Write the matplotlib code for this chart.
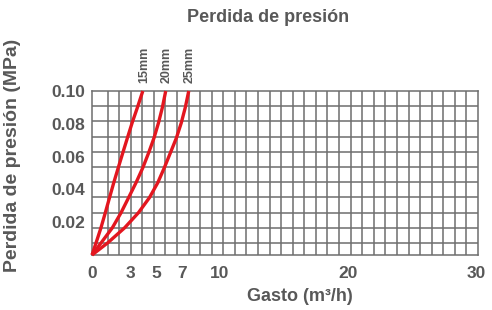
import numpy as np
import matplotlib
matplotlib.use('Agg')
import matplotlib.pyplot as plt
from matplotlib.transforms import offset_copy

# pressure drop (MPa) vs flow (m3/h)
presion = [0.0, 0.0075, 0.0166, 0.0258, 0.035, 0.0441, 0.0532, 0.0624, 0.0715, 0.0807, 0.090, 0.100]
gasto_15 = [0.0, 0.32, 0.70, 1.04, 1.37, 1.70, 2.05, 2.41, 2.77, 3.14, 3.55, 3.97]
gasto_20 = [0.0, 0.72, 1.59, 2.27, 2.86, 3.44, 3.97, 4.43, 4.85, 5.20, 5.50, 5.76]
gasto_25 = [0.0, 1.24, 2.55, 3.63, 4.49, 5.14, 5.65, 6.13, 6.60, 6.98, 7.29, 7.56]
series = [('15mm', gasto_15), ('20mm', gasto_20), ('25mm', gasto_25)]

x_ticks = [0, 3, 5, 7, 10, 20, 30]
y_ticks = [0.02, 0.04, 0.06, 0.08, 0.10]

RED = '#e3161f'
GRID = '#6e6e6e'
TEXT = '#585858'

plt.rcParams['font.family'] = ['Liberation Sans', 'DejaVu Sans']
plt.rcParams['font.weight'] = 'bold'

fig = plt.figure(figsize=(4.92, 3.10), dpi=100)
ax = fig.add_axes([0.187, 0.1774, 0.7845, 0.529])

xmin, xmax = 0.31, 30.16
ymin, ymax = 0.0, 0.10
ax.set_xlim(xmin, xmax)
ax.set_ylim(ymin, ymax)

# the grid in the original doesn't line up with the ticks
for gx in np.linspace(xmin, xmax, 34)[1:-1]:
    ax.axvline(gx, color=GRID, lw=1.1, zorder=1)
for gy in ymax - np.arange(1, 11) * 0.00927:
    ax.axhline(gy, color=GRID, lw=1.1, zorder=1)
for sp in ax.spines.values():
    sp.set_color(GRID)
    sp.set_linewidth(1.1)

for name, g in series:
    ax.plot(g, presion, color=RED, lw=2.4, solid_capstyle='butt', solid_joinstyle='round',
            clip_on=False, zorder=3)
    ax.text(g[-1], presion[-1], name, transform=offset_copy(ax.transData, fig=fig, x=1, y=8, units='dots'),
            rotation=90, ha='center', va='bottom', fontsize=9, color=TEXT, fontweight='bold')

ax.set_xticks(x_ticks)
ax.set_xticklabels([str(v) for v in x_ticks])
ax.set_yticks(y_ticks)
ax.set_yticklabels(['%.2f' % v for v in y_ticks])
ax.tick_params(length=0, colors=TEXT, labelsize=12.5)
ax.tick_params(axis='x', pad=8)
ax.tick_params(axis='y', pad=5)
for lab in ax.get_yticklabels():
    lab.set_transform(lab.get_transform() + offset_copy(ax.transAxes, fig=fig, x=0, y=-4, units='dots') - ax.transAxes)
for lab in ax.get_xticklabels():
    lab.set_transform(lab.get_transform() + offset_copy(ax.transAxes, fig=fig, x=1, y=0, units='dots') - ax.transAxes)

fig.text(0.545, 0.942, 'Perdida de presión', ha='center', va='center', fontsize=13, color=TEXT, fontweight='bold')
fig.text(0.61, 0.042, 'Gasto (m³/h)', ha='center', va='center', fontsize=13, color=TEXT, fontweight='bold')
fig.text(0.026, 0.50, 'Perdida de presión (MPa)', ha='center', va='center', rotation=90,
         fontsize=14, color=TEXT, fontweight='bold')

fig.savefig('out.png', dpi=100)
